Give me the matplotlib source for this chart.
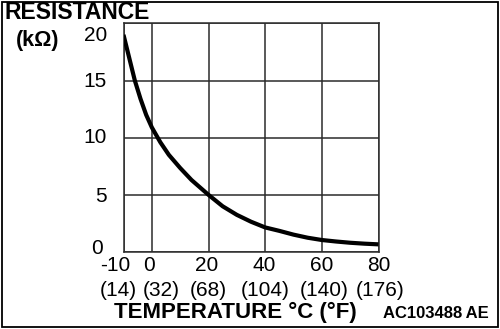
import matplotlib.pyplot as plt
from matplotlib.patches import Rectangle
from matplotlib.transforms import offset_copy

# ---------- data ----------
temp_c = [-10, -8, -6, -4, -2, 0, 3, 6, 10, 14, 20, 25, 30, 35, 40,
          45, 50, 55, 60, 65, 70, 75, 80]
resist_k = [19.0, 17.0, 15.0, 13.4, 12.0, 10.9, 9.6, 8.5, 7.35, 6.3, 5.0, 4.0, 3.25, 2.65, 2.15,
            1.85, 1.52, 1.25, 1.05, 0.92, 0.81, 0.73, 0.67]

x_ticks = [-10, 0, 20, 40, 60, 80]
x_labels = ['-10', '0', '20', '40', '60', '80']
f_labels = ['(14)', '(32)', '(68)', '(104)', '(140)', '(176)']
y_ticks = [0, 5, 10, 15, 20]
y_labels = ['0', '5', '10', '15', '20']

plt.rcParams['font.family'] = ['Liberation Sans', 'DejaVu Sans']
grid_col = '#2b2b2b'

fig = plt.figure(figsize=(5.0, 3.29), dpi=100)
ax = fig.add_axes([0.247, 0.234, 0.51, 0.695])

ax.plot(temp_c, resist_k, color='black', lw=3.0, solid_joinstyle='round',
        solid_capstyle='butt', zorder=3)
ax.set_xlim(-10, 80)
ax.set_ylim(0, 20)
ax.set_xticks(x_ticks)
ax.set_yticks(y_ticks)
ax.grid(True, color=grid_col, lw=1.1)
ax.tick_params(length=0, labelbottom=False, labelleft=False)
for s in ax.spines.values():
    s.set_color(grid_col)
    s.set_linewidth(1.1)

# ---------- tick labels (nudged like the original drawing) ----------
fs = 15
y_dx = [-15, -12, -12, -12, -12]   # points
y_dy = [2.5, -1, 0, -0.5, -9]
for v, lab, dx, dy in zip(y_ticks, y_labels, y_dx, y_dy):
    tr = offset_copy(ax.get_yaxis_transform(), fig=fig, x=dx, y=dy, units='points')
    ax.text(0, v, lab, transform=tr, ha='right', va='center', fontsize=fs)

cx_nudge = [-6, -2, -1, -1, 0, 0]
fx_nudge = [-4, 7, 0, 0, 2, 1.5]
for v, lab, flab, dx, fdx in zip(x_ticks, x_labels, f_labels, cx_nudge, fx_nudge):
    tr = offset_copy(ax.get_xaxis_transform(), fig=fig, x=dx, y=-9.5, units='points')
    ax.text(v, 0, lab, transform=tr, ha='center', va='center', fontsize=fs)
    tr2 = offset_copy(ax.get_xaxis_transform(), fig=fig, x=fdx, y=-27.5, units='points')
    ax.text(v, 0, flab, transform=tr2, ha='center', va='center', fontsize=fs)

# ---------- titles ----------
fig.text(0.010, 0.962, 'RESISTANCE', fontsize=16.5, fontweight='bold', ha='left', va='center')
fig.text(0.075, 0.878, '(k\u03a9)', fontsize=15.5, fontweight='bold', ha='center', va='center')
fig.text(0.470, 0.050, 'TEMPERATURE \u00b0C (\u00b0F)', fontsize=16, fontweight='bold',
         ha='center', va='center')
fig.text(0.871, 0.048, 'AC103488\u2009AE', fontsize=12, fontweight='bold',
         ha='center', va='center')

# outer frame
fig.patches.append(Rectangle((0.003, 0.005), 0.993, 0.99, transform=fig.transFigure,
                             fill=False, edgecolor='black', lw=1.3))

fig.savefig('out.png', dpi=100)
